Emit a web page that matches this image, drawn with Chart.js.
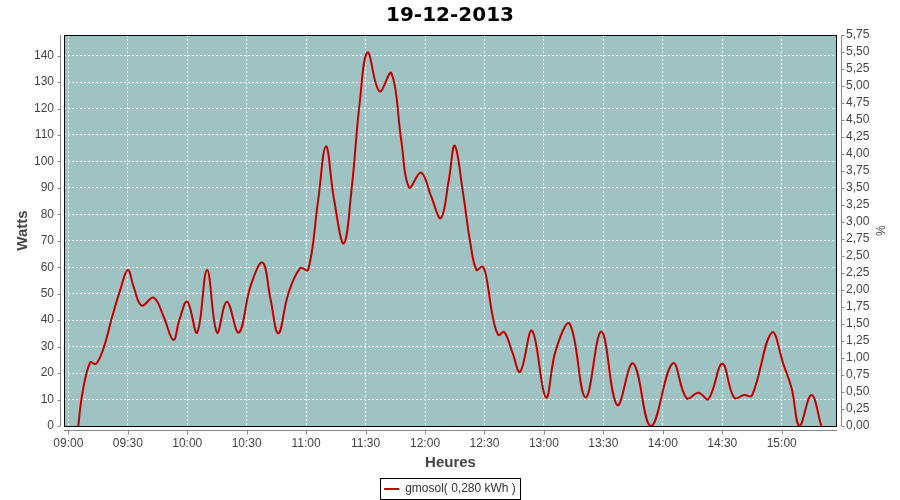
<!DOCTYPE html>
<html>
<head>
<meta charset="utf-8">
<script src="https://cdn.jsdelivr.net/npm/chart.js@4"></script>
<style>
html,body{margin:0;padding:0;background:#fff;}
</style>
</head>
<body>
<canvas id="chart" width="900" height="500"></canvas>
<script>

const chartTitle = "19-12-2013";
const seriesLabel = "gmosol( 0,280 kWh )";

// heure de chaque mesure
const times = [
"09:05","09:07","09:11","09:14","09:18","09:22","09:26","09:30","09:33","09:37",
"09:43","09:48","09:53","09:56","10:00","10:05","10:10","10:15","10:20","10:26",
"10:32","10:38","10:42","10:46","10:51","10:57","11:01","11:06","11:10","11:14",
"11:19","11:23","11:27","11:31","11:37","11:43","11:48","11:52","11:58","12:03",
"12:08","12:12","12:15","12:19","12:23","12:26","12:29","12:31","12:34","12:37",
"12:40","12:44","12:48","12:54","13:01","13:06","13:13","13:21","13:29","13:37",
"13:45","13:54","14:05","14:12","14:18","14:23","14:30","14:36","14:41","14:45",
"14:55","15:01","15:05","15:09","15:15","15:20"
];

// puissance en watts
const watts = [
0,12,24,23.5,30,41,51,59,52.5,45.5,
48.5,41.5,32.5,40,47,35.3,59,35.3,47,35.3,
53,61.8,48,35,50,59.7,59,85,105.7,86,
69,90,122,141.2,126.5,133.4,108,90.2,95.8,87,
78.6,93,106,89,68.5,59,60.3,56,42,34.4,
35.5,28,20.5,36,10.8,28.7,38.6,10.8,35.7,7.9,
23.7,0,23.7,10.5,12.6,10.2,23.5,10.7,11.7,11.5,
35.3,23,14.3,0,11.7,0
];

const xTicks = ["09:00","09:30","10:00","10:30","11:00","11:30","12:00","12:30","13:00","13:30","14:00","14:30","15:00"];
const xRange = ["08:57.8","15:27.9"];
const wattsMax = 147.8;
const percentMax = 5.75;

function toMin(s){
let p = s.split(":");
return Number(p[0])*60 + Number(p[1]);
}

const points = times.map((t,i)=>({x:toMin(t), y:watts[i]}));

const tickFont = {family:"Liberation Sans", size:12};
const titleFont = {family:"Liberation Sans", size:15, weight:"bold"};

/* fond, cadre et axes decales facon JFreeChart */

const plotFrame = {
id:"plotFrame",
beforeDraw(chart){
let a = chart.chartArea, c = chart.ctx;
c.save();
c.fillStyle = "#9fc3c3";
c.fillRect(a.left, a.top, a.right-a.left, a.bottom-a.top);
c.restore();
},
beforeDatasetsDraw(chart){
let a = chart.chartArea, c = chart.ctx;
c.save();
c.strokeStyle = "#000";
c.lineWidth = 1;
c.strokeRect(a.left+0.5, a.top+0.5, a.right-a.left-1, a.bottom-a.top);
c.restore();
},
afterDraw(chart){
let a = chart.chartArea, c = chart.ctx;
c.save();
c.strokeStyle = "#888";
c.lineWidth = 1;
c.beginPath();

let x = chart.scales.x;
let yb = a.bottom + 4.5;
c.moveTo(a.left, yb); c.lineTo(a.right, yb);
x.ticks.forEach(t=>{
let px = Math.round(x.getPixelForValue(t.value)) + 0.5;
c.moveTo(px, yb); c.lineTo(px, yb+4);
});

let y = chart.scales.y;
let xl = a.left - 3.5;
c.moveTo(xl, a.top); c.lineTo(xl, a.bottom);
y.ticks.forEach(t=>{
let py = Math.round(y.getPixelForValue(t.value)) + 0.5;
c.moveTo(xl, py); c.lineTo(xl-3, py);
});

let y2 = chart.scales.y2;
let xr = a.right + 4.5;
c.moveTo(xr, a.top); c.lineTo(xr, a.bottom);
y2.ticks.forEach(t=>{
let py = Math.round(y2.getPixelForValue(t.value)) + 0.5;
c.moveTo(xr, py); c.lineTo(xr+3, py);
});
c.stroke();

// cadre de la legende
let hb = chart.legend.legendHitBoxes[0];
if(hb){
let cy = hb.top + hb.height/2;
c.strokeStyle = "#000";
c.strokeRect(Math.round(hb.left-4)+0.5, Math.round(cy-11)+0.5, Math.round(hb.width+8), 21);
}
c.restore();
}
};

new Chart(document.getElementById("chart"),{

type:"line",

data:{
datasets:[{
label:seriesLabel,
data:points,
borderColor:"#c00000",
backgroundColor:"#c00000",
borderWidth:2,
pointRadius:0,
tension:0.4,
fill:false,
yAxisID:"y"
}]
},

options:{
responsive:false,
animation:false,
layout:{padding:{top:0, left:0, right:0, bottom:-5}},
plugins:{
title:{
display:true,
text:chartTitle,
color:"#000",
font:{family:"DejaVu Sans", size:20, weight:"bold"},
padding:{top:4, bottom:7}
},
legend:{
position:"bottom",
labels:{
color:"#333",
font:tickFont,
boxWidth:15,
boxHeight:2,
padding:2,
generateLabels:chart=>Chart.defaults.plugins.legend.labels.generateLabels(chart).map(l=>Object.assign(l,{lineWidth:0, fillStyle:"#c00000"}))
}
},
tooltip:{enabled:false}
},
scales:{
x:{
type:"linear",
min:toMin(xRange[0]),
max:toMin(xRange[1]),
afterFit(s){ s.height = 55; },
afterBuildTicks(s){ s.ticks = xTicks.map(t=>({value:toMin(t)})); },
ticks:{autoSkip:false, maxRotation:0, padding:10, color:"#444", font:tickFont, callback:(v,i)=>xTicks[i]},
grid:{color:"#fff", drawTicks:false},
border:{display:false, dash:[2,2]},
title:{display:true, text:"Heures", color:"#444", font:titleFont, padding:{top:0, bottom:9}}
},
y:{
position:"left",
min:0,
max:wattsMax,
afterFit(s){ s.width = 64; },
ticks:{stepSize:10, includeBounds:false, autoSkip:false, padding:10, color:"#444", font:tickFont},
grid:{color:"#fff", drawTicks:false},
border:{display:false, dash:[2,2]},
title:{display:true, text:"Watts", color:"#444", font:titleFont, padding:{top:14, bottom:0}}
},
y2:{
position:"right",
min:0,
max:percentMax,
afterFit(s){ s.width = 63; },
ticks:{stepSize:0.25, includeBounds:false, autoSkip:false, padding:9, color:"#444", font:tickFont, callback:v=>v.toFixed(2).replace(".",",")},
grid:{drawOnChartArea:false, drawTicks:false},
border:{display:false},
title:{display:true, text:"%", color:"#444", font:tickFont, padding:{top:13, bottom:0}}
}
}
},

plugins:[plotFrame]

});

</script>
</body>
</html>
